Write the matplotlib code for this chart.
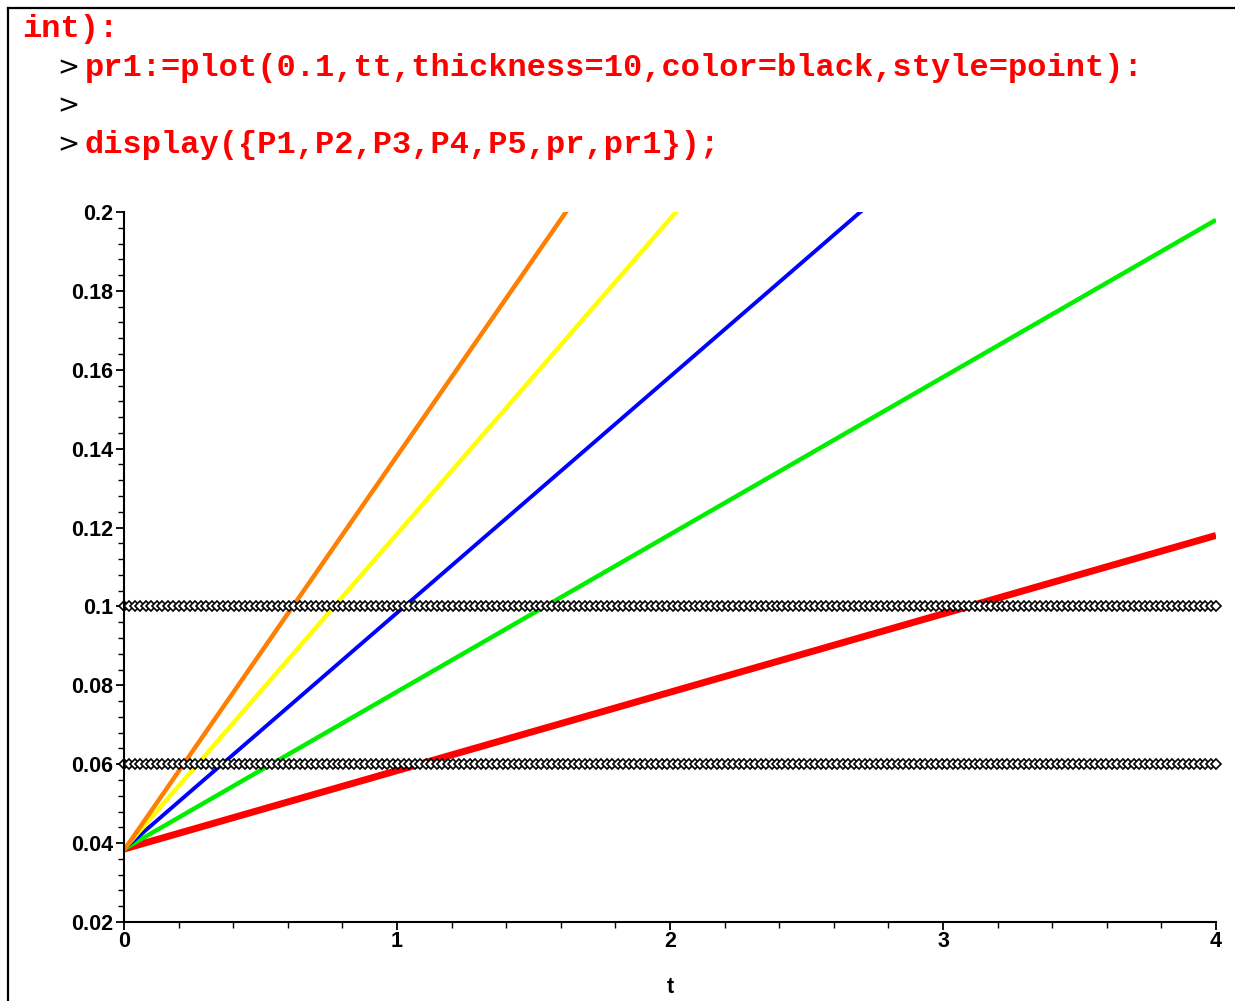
import numpy as np
import matplotlib
matplotlib.use('Agg')
import matplotlib.pyplot as plt
from matplotlib.ticker import MultipleLocator

# Maple worksheet lines above the plot
prompt_lines = ['int):',
                'pr1:=plot(0.1,tt,thickness=10,color=black,style=point):',
                '',
                'display({P1,P2,P3,P4,P5,pr,pr1});']

# five straight lines: value at t=0 and at t=4
line_names = ['P1', 'P2', 'P3', 'P4', 'P5']
line_start = [0.0385, 0.0385, 0.0385, 0.0385, 0.0382]
line_end = [0.118, 0.198, 0.278, 0.358, 0.438]
line_colors = ['#ff0000', '#00ee00', '#0000ff', '#ffff00', '#ff7f00']
line_widths = [5.0, 3.2, 2.8, 3.2, 3.2]

# horizontal point plots (pr, pr1)
level_values = [0.06, 0.1]

t_range = [0, 4]
x_ticks = [0, 1, 2, 3, 4]
y_ticks = [0.02, 0.04, 0.06, 0.08, 0.1, 0.12, 0.14, 0.16, 0.18, 0.2]

fig = plt.figure(figsize=(12.35, 10.01), dpi=100)

# worksheet border
fig.add_artist(plt.Line2D([8 / 1235, 8 / 1235], [0, 1 - 8 / 1001], color='black', lw=1.6))
fig.add_artist(plt.Line2D([8 / 1235, 1], [1 - 8 / 1001, 1 - 8 / 1001], color='black', lw=1.6))

mono = 'Liberation Mono'
fs = 23
fig.text(22 / 1235, 1 - 29 / 1001, prompt_lines[0], color='red', family=mono,
         weight='bold', fontsize=fs, va='center')
for i, txt in enumerate(prompt_lines[1:]):
    yy = 1 - (68 + 38.5 * i) / 1001
    fig.text(57 / 1235, yy, '>', color='black', family='DejaVu Sans', fontsize=19, va='center')
    if txt:
        fig.text(85 / 1235, yy, txt, color='red', family=mono, weight='bold',
                 fontsize=fs, va='center')

ax = fig.add_axes([124 / 1235, 1 - 922 / 1001, 1092 / 1235, 710 / 1001])
ax.set_xlim(t_range)
ax.set_ylim(0.02, 0.2)

tt = np.linspace(t_range[0], t_range[1], 2)
for y0, y1, c, w in zip(line_start, line_end, line_colors, line_widths):
    ax.plot(tt, [y0, y1], color=c, lw=w, solid_capstyle='butt')

t_pts = np.linspace(t_range[0], t_range[1], 200)
for lv in level_values:
    ax.plot(t_pts, np.full_like(t_pts, lv), linestyle='none', marker='D', ms=5,
            mfc='white', mec='black', mew=1.2, clip_on=False)

for s in ['top', 'right']:
    ax.spines[s].set_visible(False)
ax.spines['left'].set_linewidth(1.5)
ax.spines['bottom'].set_linewidth(1.5)

ax.set_xticks(x_ticks)
ax.set_yticks(y_ticks)
ax.set_yticklabels([f'{v:g}' for v in y_ticks])
ax.xaxis.set_minor_locator(MultipleLocator(0.2))
ax.yaxis.set_minor_locator(MultipleLocator(0.004))
ax.tick_params(which='major', length=6, width=1.3, pad=2)
ax.tick_params(axis='x', which='major', pad=0.5)
ax.tick_params(which='minor', length=4, width=1.0)
for lab in ax.get_xticklabels() + ax.get_yticklabels():
    lab.set_family('Liberation Sans')
    lab.set_weight('bold')
    lab.set_fontsize(15.5)

ax.set_xlabel('t', family='Liberation Sans', weight='bold', fontsize=15.5, labelpad=18)

fig.savefig('out.png', dpi=100)
